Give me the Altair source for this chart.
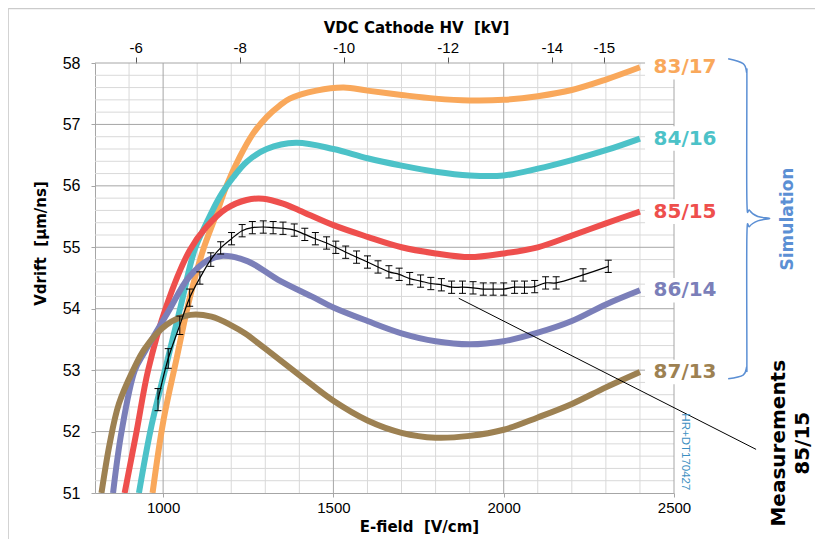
import altair as alt
import pandas as pd

# ---------------- data ----------------
series_names = ["83/17", "84/16", "85/15", "86/14", "87/13"]
series_colors = ["#f9a85b", "#4cc2c8", "#ee4f4d", "#7b7fb9", "#9d8152"]

e_8317 = [969, 1000, 1040, 1078, 1117, 1157, 1186, 1225, 1264, 1304, 1343, 1372,
          1450, 1530, 1600, 1700, 1800, 1900, 2000, 2100, 2200, 2300, 2400]
v_8317 = [51.0, 52.15, 53.2, 54.17, 54.95, 55.55, 56.0, 56.47, 56.85, 57.12, 57.31, 57.42,
          57.55, 57.6, 57.55, 57.48, 57.42, 57.39, 57.4, 57.46, 57.56, 57.73, 57.93]

e_8416 = [929, 966, 1010, 1052, 1092, 1127, 1166, 1206, 1245, 1304, 1390,
          1500, 1600, 1700, 1800, 1900, 2000, 2100, 2200, 2300, 2400]
v_8416 = [51.0, 52.1, 53.1, 54.05, 54.95, 55.39, 55.82, 56.14, 56.39, 56.6, 56.7,
          56.6, 56.45, 56.33, 56.23, 56.17, 56.17, 56.28, 56.42, 56.58, 56.77]

e_8515 = [887, 922, 956, 1010, 1078, 1127, 1186, 1245, 1294, 1352,
          1400, 1500, 1600, 1700, 1800, 1900, 2000, 2100, 2200, 2300, 2400]
v_8515 = [51.0, 52.0, 53.0, 54.05, 54.95, 55.33, 55.63, 55.77, 55.79, 55.71,
          55.6, 55.36, 55.17, 55.0, 54.9, 54.84, 54.9, 55.0, 55.19, 55.39, 55.58]

e_8614 = [853, 878, 917, 946, 1015, 1074, 1132, 1171, 1249, 1338, 1436, 1500,
          1600, 1700, 1800, 1900, 2000, 2100, 2200, 2300, 2400]
v_8614 = [51.0, 52.0, 53.0, 53.3, 53.95, 54.5, 54.79, 54.86, 54.77, 54.47, 54.2, 54.02,
          53.8, 53.6, 53.47, 53.42, 53.47, 53.61, 53.8, 54.07, 54.3]

e_8713 = [819, 843, 870, 912, 946, 1010, 1080, 1142, 1200, 1240, 1300, 1400, 1500,
          1600, 1700, 1800, 1900, 2000, 2100, 2200, 2300, 2400]
v_8713 = [51.0, 51.8, 52.45, 53.0, 53.35, 53.74, 53.9, 53.87, 53.73, 53.6, 53.35, 52.92, 52.5,
          52.18, 51.98, 51.9, 51.93, 52.03, 52.23, 52.45, 52.72, 52.97]

meas_e = [985, 1015, 1049, 1078, 1108, 1140, 1169, 1201, 1232, 1262,
          1294, 1323, 1352, 1385, 1416, 1447, 1480, 1507, 1536, 1568,
          1600, 1631, 1663, 1693, 1724, 1756, 1786, 1817, 1847, 1879,
          1910, 1940, 1969, 2000, 2032, 2061, 2091, 2123, 2154, 2233, 2307]
meas_v = [52.52, 53.19, 53.73, 54.18, 54.5, 54.8, 54.99, 55.14, 55.27, 55.32,
          55.33, 55.32, 55.31, 55.28, 55.21, 55.14, 55.07, 55.0, 54.92, 54.84,
          54.76, 54.68, 54.6, 54.56, 54.49, 54.45, 54.41, 54.39, 54.35, 54.35,
          54.34, 54.32, 54.32, 54.32, 54.35, 54.35, 54.36, 54.42, 54.42, 54.55, 54.69]
meas_err = [0.18, 0.16, 0.15, 0.14, 0.10, 0.11, 0.10, 0.10, 0.10, 0.10,
            0.10, 0.10, 0.10, 0.10, 0.10, 0.10, 0.10, 0.10, 0.10, 0.10,
            0.10, 0.10, 0.10, 0.10, 0.10, 0.10, 0.10, 0.10, 0.10, 0.10,
            0.10, 0.10, 0.10, 0.10, 0.10, 0.10, 0.10, 0.10, 0.10, 0.10, 0.10]

hv_ticks = [-6, -8, -10, -12, -14, -15]
x_label_values = [1000, 1500, 2000, 2500]
y_label_values = [51, 52, 53, 54, 55, 56, 57, 58]
x_minor = [900, 1100, 1200, 1300, 1400, 1600, 1700, 1800, 1900, 2100, 2200, 2300, 2400]
x_major = [1000, 1500, 2000, 2500]
y_major = [52, 53, 54, 55, 56, 57, 58]
y_minor = [round(51 + 0.2 * i, 1) for i in range(1, 35) if i % 5]

# annotations (data units)
label_e = 2440
brace_e = [2659, 2703, 2713, 2714, 2714, 2722, 2746, 2781, 2746, 2722, 2714, 2714, 2713, 2703, 2659]
brace_v = [58.07, 57.99, 57.85, 57.72, 55.77, 55.60, 55.50, 55.47, 55.43, 55.34, 55.18,
           53.16, 53.05, 52.92, 52.86]
pointer_e = [1868, 2741]
pointer_v = [54.17, 51.71]

NB = "\u00a0"

# ---------------- frames ----------------
sim_e = [e_8317, e_8416, e_8515, e_8614, e_8713]
sim_v = [v_8317, v_8416, v_8515, v_8614, v_8713]
sim = pd.concat([pd.DataFrame({"e": e, "v": v, "series": n})
                 for e, v, n in zip(sim_e, sim_v, series_names)], ignore_index=True)
labels = pd.DataFrame({"series": series_names, "e": label_e, "v": [v[-1] for v in sim_v]})
labels["v0"] = labels["v"] - 0.2
labels["v1"] = labels["v"] + 0.2
labels["e0"] = 2415
labels["e1"] = 2640
meas = pd.DataFrame({"e": meas_e, "v": meas_v, "err": meas_err})
meas["lo"] = meas["v"] - meas["err"]
meas["hi"] = meas["v"] + meas["err"]
brace = pd.DataFrame({"e": brace_e, "v": brace_v, "i": list(range(len(brace_e)))})
pointer = pd.DataFrame({"e": pointer_e, "v": pointer_v})

TITLE_FONT = "DejaVu Sans"
LABEL_FONT = "Liberation Sans"

xscale = alt.Scale(domain=[800, 2500], nice=False, zero=False)
yscale = alt.Scale(domain=[51, 58], nice=False, zero=False)
xaxis = alt.Axis(values=x_label_values, grid=False, title="E-field" + NB + " [V/cm]",
                 titleX=324, titleY=33, titleAlign="center", titleBaseline="middle",
                 titleFont=TITLE_FONT, titleFontSize=15, titleFontWeight="bold", titleColor="black",
                 labelFont=LABEL_FONT, labelFontSize=15, labelColor="black", labelPadding=3,
                 labelFlush=False, format="d", tickSize=4, tickColor="#a6a6a6",
                 domainColor="#a6a6a6")
yaxis = alt.Axis(values=y_label_values, grid=False, title="Vdrift" + NB + " [µm/ns]",
                 titleX=-55, titleY=180, titleAngle=270, titleAlign="center",
                 titleBaseline="middle", titleFont=TITLE_FONT, titleFontSize=15,
                 titleFontWeight="bold", titleColor="black",
                 labelFont=LABEL_FONT, labelFontSize=16, labelColor="black", labelPadding=11,
                 tickSize=4, tickColor="#a6a6a6", domainColor="#a6a6a6")


def X(field="e"):
    return alt.X(f"{field}:Q", scale=xscale, axis=xaxis)


def Y(field="v"):
    return alt.Y(f"{field}:Q", scale=yscale, axis=yaxis)


color = alt.Color("series:N", scale=alt.Scale(domain=series_names, range=series_colors),
                  legend=None)

frame = alt.Chart(pd.DataFrame({"a": [0]})).mark_rect(
    fillOpacity=0, stroke="#bfbfbf", strokeWidth=1
).encode(x=alt.value(-86.8), x2=alt.value(900), y=alt.value(-54.3), y2=alt.value(700))

g_xminor = alt.Chart(pd.DataFrame({"e": x_minor})).mark_rule(
    color="#d9d9d9", strokeWidth=1).encode(x=X())
g_yminor = alt.Chart(pd.DataFrame({"v": y_minor})).mark_rule(
    color="#d9d9d9", strokeWidth=1).encode(y=Y())
g_xmajor = alt.Chart(pd.DataFrame({"e": x_major})).mark_rule(
    color="#a6a6a6", strokeWidth=1).encode(x=X())
g_ymajor = alt.Chart(pd.DataFrame({"v": y_major})).mark_rule(
    color="#a6a6a6", strokeWidth=1).encode(y=Y())

boxes = alt.Chart(labels).mark_rect(fill="white").encode(
    x=X("e0"), x2="e1:Q", y=Y("v0"), y2="v1:Q")

curves = alt.Chart(sim).mark_line(strokeWidth=6, interpolate="catmull-rom", clip=True).encode(
    x=X(), y=Y(), color=color, detail="series:N")

meas_line = alt.Chart(meas).mark_line(color="black", strokeWidth=1.2,
                                      interpolate="catmull-rom").encode(x=X(), y=Y())
meas_bar = alt.Chart(meas).mark_rule(color="black", strokeWidth=1).encode(
    x=X(), y=Y("lo"), y2="hi:Q")
meas_cap_lo = alt.Chart(meas).mark_point(shape="M-1,0L1,0", size=49, color="black",
                                         strokeWidth=1, filled=False, opacity=1).encode(
    x=X(), y=Y("lo"))
meas_cap_hi = alt.Chart(meas).mark_point(shape="M-1,0L1,0", size=49, color="black",
                                         strokeWidth=1, filled=False, opacity=1).encode(
    x=X(), y=Y("hi"))

label_text = alt.Chart(labels).mark_text(
    align="left", baseline="middle", font=TITLE_FONT, fontSize=20, fontWeight="bold"
).encode(x=X(), y=Y(), text="series:N", color=color)

brace_line = alt.Chart(brace).mark_line(color="#5b8fd4", strokeWidth=1.5,
                                        interpolate="cardinal").encode(
    x=X(), y=Y(), order="i:Q")

pointer_line = alt.Chart(pointer).mark_line(color="black", strokeWidth=1).encode(x=X(), y=Y())

sim_text = alt.Chart(pd.DataFrame({"e": [2834], "v": [55.46], "t": ["Simulation"]})).mark_text(
    angle=270, align="center", baseline="middle", font=TITLE_FONT, fontSize=17,
    fontWeight="bold", color="#5b8fd4"
).encode(x=X(), y=Y(), text="t:N")

meas_text = alt.Chart(pd.DataFrame({"e": [2808, 2880], "v": [51.81, 51.81],
                                    "t": ["Measurements", "85/15"]})).mark_text(
    angle=270, align="center", baseline="middle", font=TITLE_FONT, fontSize=20,
    fontWeight="bold", color="black"
).encode(x=X(), y=Y(), text="t:N")

stamp = alt.Chart(pd.DataFrame({"e": [2532], "v": [51.67], "t": ["HR+DT170427"]})).mark_text(
    angle=90, align="center", baseline="middle", font=LABEL_FONT, fontSize=11.5,
    color="#3d8fc2"
).encode(x=X(), y=Y(), text="t:N")

inner = alt.layer(frame, g_xminor, g_yminor, g_xmajor, g_ymajor, boxes, curves,
                  meas_line, meas_bar, meas_cap_lo, meas_cap_hi, pointer_line,
                  label_text, brace_line, sim_text, meas_text, stamp)

hv_layer = alt.Chart(pd.DataFrame({"hv": hv_ticks})).mark_point(opacity=0).encode(
    x=alt.X("hv:Q", scale=alt.Scale(domain=[-5.22, -16.35], nice=False, zero=False),
            axis=alt.Axis(orient="top", values=hv_ticks, grid=False, domain=False,
                          title="VDC Cathode HV" + NB + " [kV]", titleX=321, titleY=-36,
                          titleAlign="center", titleBaseline="middle",
                          titleFont=TITLE_FONT, titleFontSize=15, titleFontWeight="bold",
                          titleColor="black", labelFont=LABEL_FONT, labelFontSize=15,
                          labelColor="black", labelPadding=2, labelFlush=False,
                          labelExpr="'-' + abs(datum.value)",
                          tickSize=6, tickColor="#555555"))
)

chart = alt.layer(inner, hv_layer).resolve_scale(x="independent").properties(
    width=579, height=430,
    padding={"left": 87, "top": 55, "right": 141, "bottom": 46},
    autosize=alt.AutoSizeParams(type="none"),
    background="white",
).configure_view(strokeWidth=0)

chart.save("out.html", embed_options={"renderer": "svg", "actions": False})
